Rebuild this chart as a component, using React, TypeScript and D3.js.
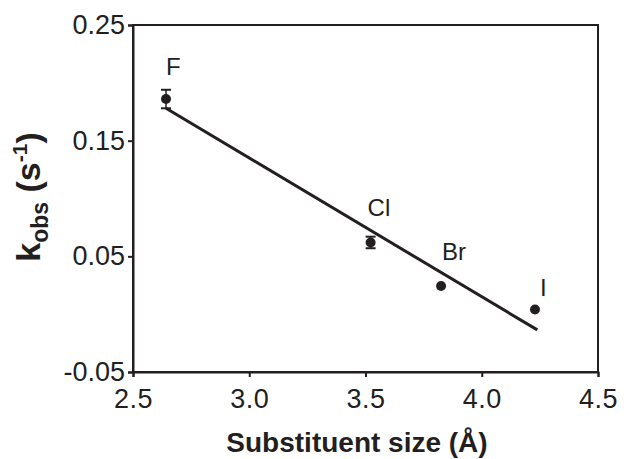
import React, { useEffect, useRef } from 'react';
import * as d3 from 'd3';

// Measured points (substituent size vs k_obs)
const labels = ['F', 'Cl', 'Br', 'I'];
const sizes = [2.642, 3.522, 3.825, 4.229];
const kobs = [0.186, 0.062, 0.0244, 0.004];
const errors = [0.008, 0.005, 0, 0];

// Linear fit end points
const fitX = [2.642, 4.239];
const fitY = [0.178, -0.0136];

const xTicks = [2.5, 3.0, 3.5, 4.0, 4.5];
const yTicks = [-0.05, 0.05, 0.15, 0.25];

const App: React.FC = () => {
  const ref = useRef<SVGSVGElement>(null);

  useEffect(() => {
    if (!ref.current) return;
    const svg = d3.select(ref.current);
    svg.selectAll('*').remove();

    const margin = { top: 25, right: 26, bottom: 87, left: 133 };
    const width = 624 - margin.left - margin.right;
    const height = 459 - margin.top - margin.bottom;
    const font = 'Arial, "Liberation Sans", Helvetica, sans-serif';
    const ink = '#231f20';

    const x = d3.scaleLinear().domain([2.5, 4.5]).range([0, width]);
    const y = d3.scaleLinear().domain([-0.05, 0.25]).range([height, 0]);

    const g = svg.append('g').attr('transform', `translate(${margin.left},${margin.top})`);

    // frame
    g.append('rect')
      .attr('width', width)
      .attr('height', height)
      .attr('fill', 'none')
      .attr('stroke', ink)
      .attr('stroke-width', 2);

    // X axis
    const xa = g.append('g')
      .attr('transform', `translate(0,${height})`)
      .call(d3.axisBottom(x).tickValues(xTicks).tickFormat(d3.format('.1f')).tickSize(5).tickPadding(12));
    xa.select('.domain').attr('stroke', ink).attr('stroke-width', 2);
    xa.selectAll('line').attr('stroke', ink).attr('stroke-width', 2);
    xa.selectAll('text')
      .attr('font-family', font)
      .attr('font-size', 27)
      .attr('letter-spacing', 0.5)
      .attr('fill', ink);

    // Y axis
    const ya = g.append('g')
      .call(d3.axisLeft(y).tickValues(yTicks)
        .tickFormat(d => d3.format('.2f')(Number(d)).replace('−', '-'))
        .tickSize(5).tickPadding(3));
    ya.select('.domain').attr('stroke', ink).attr('stroke-width', 2);
    ya.selectAll('line').attr('stroke', ink).attr('stroke-width', 2);
    ya.selectAll('text')
      .attr('font-family', font)
      .attr('font-size', 27)
      .attr('fill', ink);

    // fit line
    g.append('path')
      .datum(fitX.map((v, i) => [v, fitY[i]] as [number, number]))
      .attr('fill', 'none')
      .attr('stroke', ink)
      .attr('stroke-width', 3)
      .attr('d', d3.line<[number, number]>().x(d => x(d[0])).y(d => y(d[1])));

    // error bars
    sizes.forEach((s, i) => {
      if (!errors[i]) return;
      const cx = x(s);
      const y1 = y(kobs[i] + errors[i]);
      const y2 = y(kobs[i] - errors[i]);
      g.append('line')
        .attr('x1', cx).attr('x2', cx).attr('y1', y1).attr('y2', y2)
        .attr('stroke', ink).attr('stroke-width', 1.5);
      [y1, y2].forEach(yy => {
        g.append('line')
          .attr('x1', cx - 5).attr('x2', cx + 5).attr('y1', yy).attr('y2', yy)
          .attr('stroke', ink).attr('stroke-width', 2);
      });
    });

    // points
    g.selectAll('.pt')
      .data(sizes)
      .join('circle')
      .attr('class', 'pt')
      .attr('cx', d => x(d))
      .attr('cy', (_, i) => y(kobs[i]))
      .attr('r', 5)
      .attr('fill', ink);

    // point labels
    const labelOffset = [[0, -24], [-3, -26], [1, -26], [5, -14]];
    g.selectAll('.lbl')
      .data(labels)
      .join('text')
      .attr('class', 'lbl')
      .attr('x', (_, i) => x(sizes[i]) + labelOffset[i][0])
      .attr('y', (_, i) => y(kobs[i]) + labelOffset[i][1])
      .attr('font-family', font)
      .attr('font-size', 24)
      .attr('fill', ink)
      .text(d => d);

    // axis titles
    svg.append('text')
      .attr('x', 357)
      .attr('y', 452)
      .attr('text-anchor', 'middle')
      .attr('font-family', font)
      .attr('font-weight', 'bold')
      .attr('font-size', 28)
      .attr('fill', ink)
      .text('Substituent size (Å)');

    const yt = svg.append('text')
      .attr('transform', `translate(40,197) rotate(-90)`)
      .attr('text-anchor', 'middle')
      .attr('font-family', font)
      .attr('font-weight', 'bold')
      .attr('font-size', 34)
      .attr('fill', ink);
    yt.append('tspan').text('k');
    yt.append('tspan').attr('font-size', 23).attr('dy', 8).text('obs');
    yt.append('tspan').attr('dy', -8).text(' (s');
    yt.append('tspan').attr('font-size', 21).attr('dy', -13).text('-1');
    yt.append('tspan').attr('dy', 13).text(')');
  }, []);

  return (
    <svg
      ref={ref}
      width={624}
      height={459}
      style={{ position: 'absolute', left: 0, top: 0, background: '#fff' }}
    />
  );
};

export default App;
